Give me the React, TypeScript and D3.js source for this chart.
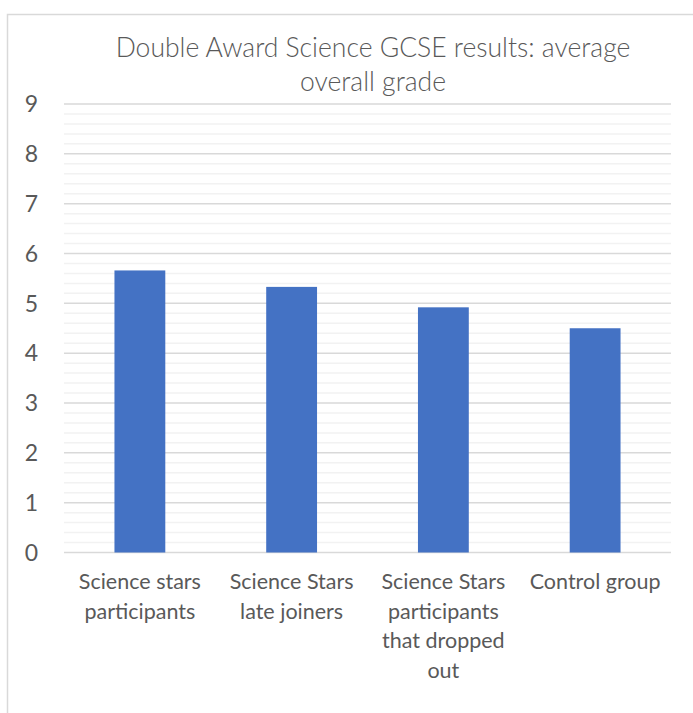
import React from "react";
import * as d3 from "d3";

// chart data
const categories = [
  "Science stars participants",
  "Science Stars late joiners",
  "Science Stars participants that dropped out",
  "Control group",
];
const categoryLines = [
  ["Science stars", "participants"],
  ["Science Stars", "late joiners"],
  ["Science Stars", "participants", "that dropped", "out"],
  ["Control group"],
];
const averageGrade = [5.66, 5.33, 4.92, 4.5];
const yTicks = [0, 1, 2, 3, 4, 5, 6, 7, 8, 9];
const titleLines = ["Double Award Science GCSE results: average", "overall grade"];

const W = 693;
const H = 713;
const margin = { top: 104, right: 22, bottom: 161, left: 64 };
const FONT = "Lato, 'Open Sans', sans-serif";
const TEXT = "#595959";

const App = () => {
  const x = d3
    .scaleBand<string>()
    .domain(categories)
    .range([margin.left, W - margin.right])
    .paddingInner(0.665)
    .paddingOuter(0.3325);

  const y = d3
    .scaleLinear()
    .domain([0, 9])
    .range([H - margin.bottom + 0.5, margin.top]);

  // minor gridlines every 0.2
  const minor = d3.range(0, 9.001, 0.2).filter((v) => Math.abs(v - Math.round(v)) > 0.01);

  return (
    <svg
      width={W}
      height={H}
      style={{ position: "absolute", left: 0, top: 0, background: "#fff" }}
    >
      {/* chart border */}
      <rect x={7.5} y={14.5} width={W + 10} height={H + 10} fill="#fff" stroke="#d9d9d9" strokeWidth={1.5} />

      {/* title */}
      <text textAnchor="middle" fontFamily={FONT} fontSize={26.5} fontWeight={300} fill={TEXT}>
        {titleLines.map((t, i) => (
          <tspan key={i} x={373} y={57 + i * 34}>
            {t}
          </tspan>
        ))}
      </text>

      {/* grid */}
      <g>
        {minor.map((v) => (
          <line
            key={"m" + v}
            x1={margin.left}
            x2={W - margin.right}
            y1={y(v)}
            y2={y(v)}
            stroke="#f2f2f2"
            strokeWidth={1.5}
          />
        ))}
        {yTicks.map((v) => (
          <line
            key={"M" + v}
            x1={margin.left}
            x2={W - margin.right}
            y1={y(v)}
            y2={y(v)}
            stroke="#d9d9d9"
            strokeWidth={1.5}
          />
        ))}
      </g>

      {/* bars */}
      {categories.map((c, i) => (
        <rect
          key={c}
          x={x(c)}
          y={y(averageGrade[i])}
          width={x.bandwidth()}
          height={y(0) - y(averageGrade[i])}
          fill="#4472c4"
        />
      ))}

      {/* y tick labels */}
      {yTicks.map((v) => (
        <text
          key={"t" + v}
          x={38}
          y={y(v)}
          dy="0.36em"
          textAnchor="end"
          fontFamily={FONT}
          fontSize={23}
          fill={TEXT}
        >
          {v}
        </text>
      ))}

      {/* category labels */}
      {categories.map((c, i) => (
        <text
          key={"c" + c}
          textAnchor="middle"
          fontFamily={FONT}
          fontSize={21.5}
          fill={TEXT}
        >
          {categoryLines[i].map((line, j) => (
            <tspan key={j} x={x(c)! + x.bandwidth() / 2} y={589 + j * 29.5}>
              {line}
            </tspan>
          ))}
        </text>
      ))}
    </svg>
  );
};

export default App;
